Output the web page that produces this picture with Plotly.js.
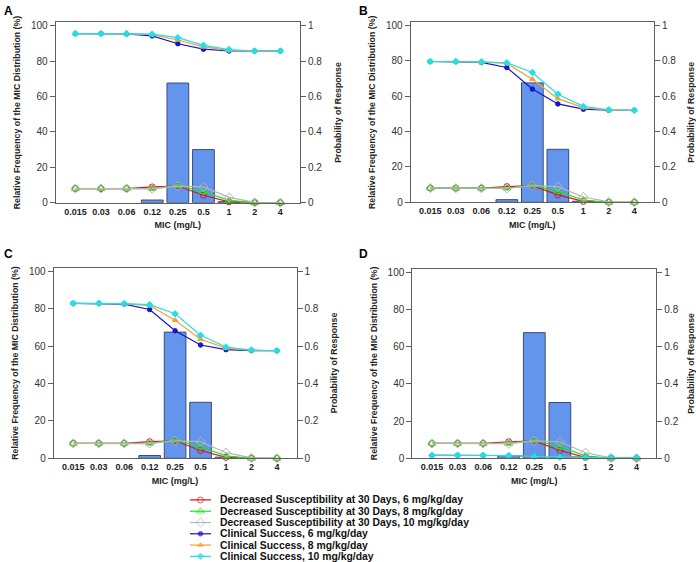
<!DOCTYPE html>
<html><head><meta charset="utf-8">
<script src="https://cdn.plot.ly/plotly-3.0.1.min.js"></script>
<style>html,body{margin:0;padding:0;background:#fff}#chart{width:696px;height:562px}</style>
</head><body><div id="chart"></div>
<script>
// ---- data ----
const categories = ['0.015','0.03','0.06','0.12','0.25','0.5','1','2','4'];
const micFrequency = [0, 0, 0, 1.5, 67.6, 30.0, 0.6, 0, 0];

const decSusc6  = [0.08, 0.08, 0.08, 0.089, 0.094, 0.042, 0.005, 0, 0];
const decSusc8  = [0.08, 0.08, 0.08, 0.08, 0.097, 0.062, 0.013, 0, 0];
const decSusc10 = [0.08, 0.08, 0.08, 0.079, 0.094, 0.089, 0.030, 0.002, 0];

const successA6  = [0.955, 0.955, 0.953, 0.942, 0.898, 0.867, 0.857, 0.857, 0.857];
const successA8  = [0.955, 0.955, 0.955, 0.949, 0.919, 0.880, 0.860, 0.857, 0.857];
const successA10 = [0.955, 0.955, 0.955, 0.952, 0.932, 0.889, 0.865, 0.857, 0.857];

const successB6  = [0.797, 0.796, 0.792, 0.763, 0.641, 0.557, 0.527, 0.521, 0.521];
const successB8  = [0.797, 0.796, 0.794, 0.787, 0.697, 0.587, 0.536, 0.521, 0.521];
const successB10 = [0.797, 0.797, 0.795, 0.790, 0.735, 0.612, 0.543, 0.524, 0.521];

const successC6  = [0.830, 0.830, 0.826, 0.797, 0.683, 0.607, 0.582, 0.577, 0.576];
const successC8  = [0.830, 0.830, 0.828, 0.818, 0.740, 0.638, 0.590, 0.578, 0.576];
const successC10 = [0.830, 0.830, 0.829, 0.823, 0.774, 0.659, 0.596, 0.580, 0.576];

const successD6  = [0.016, 0.016, 0.016, 0.015, 0.010, 0.007, 0.004, 0.003, 0.003];
const successD8  = [0.016, 0.016, 0.016, 0.015, 0.010, 0.007, 0.004, 0.003, 0.003];
const successD10 = [0.016, 0.016, 0.016, 0.015, 0.010, 0.007, 0.004, 0.003, 0.003];

const seriesNames = [
  'Decreased Susceptibility at 30 Days, 6 mg/kg/day',
  'Decreased Susceptibility at 30 Days, 8 mg/kg/day',
  'Decreased Susceptibility at 30 Days, 10 mg/kg/day',
  'Clinical Success, 6 mg/kg/day',
  'Clinical Success, 8 mg/kg/day',
  'Clinical Success, 10 mg/kg/day'
];
const panelLabels = ['A','B','C','D'];
const leftTicks = [0,20,40,60,80,100];
const rightTicks = [0,0.2,0.4,0.6,0.8,1];
const rightTickText = ['0','0.2','0.4','0.6','0.8','1'];

// ---- styles ----
const styles = [
  {color:'#e0141b', symbol:'circle-open', size:6},
  {color:'#19e619', symbol:'triangle-up-open', size:7},
  {color:'#b4b4b4', symbol:'diamond-open', size:7},
  {color:'#1414c8', symbol:'circle', size:4.5},
  {color:'#f5a030', symbol:'triangle-up', size:5},
  {color:'#22e0e8', symbol:'diamond', size:5}
];

const W = 696, H = 562;
const panels = [
  {success:[successA6,successA8,successA10], x:[55.7,300], y:[22.3,202.7], top:101.9},
  {success:[successB6,successB8,successB10], x:[410.7,654], y:[22.3,202.3], top:101.9},
  {success:[successC6,successC8,successC10], x:[53.7,296.5], y:[267.7,458.3], top:102.1},
  {success:[successD6,successD8,successD10], x:[412.3,656.3], y:[268.5,458.3], top:102.1}
];

const frameColor = '#5f5f5f';
const FONT = 'Liberation Sans, Arial, sans-serif';
const traces = [];
const layout = {
  width: W, height: H,
  margin:{l:0,r:0,t:0,b:0},
  paper_bgcolor:'#fff', plot_bgcolor:'rgba(0,0,0,0)',
  showlegend:false,
  font:{family:FONT, color:'#222'},
  annotations:[]
};

panels.forEach((p, i) => {
  const n = i + 1;
  const xa = 'x' + (n === 1 ? '' : n);
  const yl = 2*i + 1, yr = 2*i + 2;
  const ya = 'y' + (yl === 1 ? '' : yl);
  const yb = 'y' + yr;
  const xdom = [p.x[0]/W, p.x[1]/W];
  const ydom = [1 - p.y[1]/H, 1 - p.y[0]/H];

  layout['xaxis' + (n === 1 ? '' : n)] = {
    domain: xdom, anchor: ya, type:'category', categoryorder:'array', categoryarray: categories,
    range:[-0.77, 8.77], showline:true, mirror:true, linecolor:frameColor, linewidth:1,
    ticks:'', showgrid:false, zeroline:false, automargin:false,
    tickfont:{family:FONT, size:9, color:'#222', weight:'bold'},
    title:{text:'<b>MIC (mg/L)</b>', font:{family:FONT, size:9, color:'#222'}, standoff:6}
  };
  layout['yaxis' + (yl === 1 ? '' : yl)] = {
    domain: ydom, anchor: xa, range:[0, p.top], tickvals: leftTicks,
    showline:true, mirror:true, linecolor:frameColor, linewidth:1,
    ticks:'outside', ticklen:5, tickcolor:frameColor, showgrid:false, zeroline:false, automargin:false,
    tickfont:{family:FONT, size:10, color:'#333'},
    title:{text:'<b>Relative Frequency of the MIC Distribution (%)</b>', font:{family:FONT, size:8.8, color:'#222'}, standoff:8}
  };
  layout['yaxis' + yr] = {
    domain: ydom, anchor: xa, overlaying: ya, side:'right', range:[0, p.top/100],
    tickvals: rightTicks, ticktext: rightTickText,
    showline:false, ticks:'outside', ticklen:5, tickcolor:frameColor, showgrid:false, zeroline:false, automargin:false,
    tickfont:{family:FONT, size:10, color:'#333'},
    title:{text:'<b>Probability of Response</b>', font:{family:FONT, size:8.8, color:'#222'}, standoff:13}
  };

  traces.push({
    type:'bar', x: categories, y: micFrequency.map(v => v > 0 ? v : null), xaxis: xa, yaxis: ya, width:0.85,
    marker:{color:'#6495ed', line:{color:'#3c4c78', width:1}}, hoverinfo:'skip'
  });
  const series = [decSusc6, decSusc8, decSusc10].concat(p.success);
  series.forEach((vals, k) => {
    const s = styles[k];
    traces.push({
      type:'scatter', mode:'lines+markers', x: categories, y: vals, xaxis: xa, yaxis: yb,
      name: seriesNames[k], cliponaxis:false,
      line:{color:s.color, width:1.2},
      marker:{symbol:s.symbol, size:s.size, color:s.color, line:{color:s.color, width:1}}
    });
  });

  layout.annotations.push({
    text:'<b>' + panelLabels[i] + '</b>', xref:'paper', yref:'paper',
    x: (i % 2 === 0 ? 2 : 357)/W, y: 1 - (i < 2 ? 2 : 245)/H,
    xanchor:'left', yanchor:'top', showarrow:false,
    font:{family:FONT, size:12, color:'#000'}
  });
});

// ---- custom legend on a hidden axis pair ----
layout.xaxis5 = {domain:[190/W, 211/W], anchor:'y9', range:[0,1], visible:false, fixedrange:true};
layout.yaxis9 = {domain:[0, 1 - 494.3/H], anchor:'x5', range:[5.5,-0.5], visible:false, fixedrange:true};
seriesNames.forEach((name, k) => {
  const s = styles[k];
  traces.push({
    type:'scatter', mode:'lines+markers', x:[0,0.5,1], y:[k,k,k], xaxis:'x5', yaxis:'y9',
    cliponaxis:false, hoverinfo:'skip',
    line:{color:s.color, width:1.2},
    marker:{symbol:s.symbol, size:[0, s.size, 0], color:s.color, line:{color:s.color, width:1}}
  });
  layout.annotations.push({
    text:'<b>' + name + '</b>', xref:'paper', yref:'y9', x:218/W, y:k,
    xanchor:'left', yanchor:'middle', showarrow:false,
    font:{family:FONT, size:10.4, color:'#111'}
  });
});

Plotly.newPlot('chart', traces, layout, {staticPlot:true, displayModeBar:false});
</script>
</body></html>
